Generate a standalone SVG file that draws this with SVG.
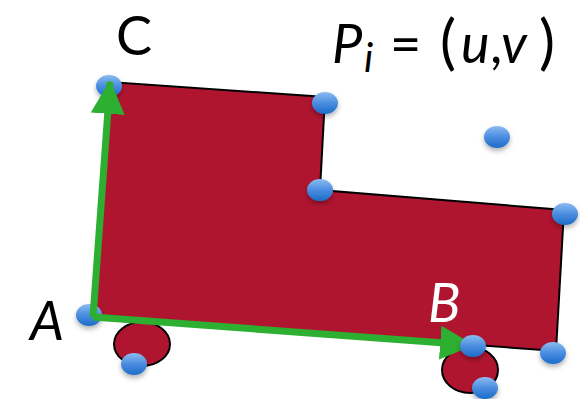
<svg xmlns="http://www.w3.org/2000/svg" width="580" height="399" viewBox="0 0 580 399">
<defs>
<linearGradient id="dotg" x1="0" y1="0" x2="0" y2="1">
<stop offset="0" stop-color="#8DBBF0"/>
<stop offset="0.5" stop-color="#4A8DE0"/>
<stop offset="1" stop-color="#1C6CC8"/>
</linearGradient>
<filter id="sh" x="-50%" y="-50%" width="200%" height="220%">
<feDropShadow dx="0" dy="3" stdDeviation="2.5" flood-color="#000" flood-opacity="0.3"/>
</filter>
<marker id="ah" markerUnits="userSpaceOnUse" markerWidth="34" markerHeight="34" viewBox="0 0 32 32" refX="30" refY="16" orient="auto">
<path d="M0,0 L32,16 L0,32 Z" fill="#2DAF31"/>
</marker>
</defs>
<style>
.shape{fill:#B01530;stroke:#000;stroke-width:2;stroke-linejoin:miter}
.dot{fill:url(#dotg);filter:url(#sh)}
.arr{stroke:#2DAF31;stroke-width:7;fill:none;marker-end:url(#ah)}
.lbl{font-family:Lato,"Open Sans",sans-serif;font-size:54px;fill:#000}
.it{font-style:italic}
</style>
<g id="circle-left"><ellipse class="shape" cx="142" cy="344" rx="28" ry="22"/></g>
<g id="circle-right"><ellipse class="shape" cx="470" cy="370" rx="28" ry="23"/></g>
<g id="polygon"><polygon class="shape" points="93,317 110,82 325,97 320,190 564,210 556,351"/></g>
<g id="points-under">
<ellipse class="dot" cx="109" cy="86" rx="13" ry="11"/>
<ellipse class="dot" cx="89" cy="315" rx="13" ry="11"/>
</g>
<g id="connectors">
<line class="arr" x1="93" y1="317" x2="110" y2="82"/>
<line class="arr" x1="93" y1="317" x2="472" y2="345"/>
</g>
<g id="points">
<ellipse class="dot" cx="325" cy="103" rx="13" ry="11"/>
<ellipse class="dot" cx="497" cy="137" rx="13" ry="11"/>
<ellipse class="dot" cx="320" cy="190" rx="13" ry="11"/>
<ellipse class="dot" cx="565" cy="214" rx="13" ry="11"/>
<ellipse class="dot" cx="134" cy="364" rx="13" ry="11"/>
<ellipse class="dot" cx="473" cy="346" rx="13" ry="11"/>
<ellipse class="dot" cx="553" cy="353" rx="13" ry="11"/>
<ellipse class="dot" cx="485" cy="388" rx="13" ry="11"/>
</g>
<g id="label-C"><text class="lbl" x="116" y="55">C</text></g>
<g id="label-A"><text class="lbl it" x="30" y="340">A</text></g>
<g id="label-B"><text class="lbl it" x="428" y="322" style="fill:#fff">B</text></g>
<g id="label-P"><text class="lbl" y="63"><tspan class="it" x="332">P</tspan><tspan class="it" x="364" y="72" font-size="40">i</tspan><tspan x="390" y="63">=</tspan><tspan x="440" font-size="60">(</tspan><tspan class="it" x="461">u</tspan><tspan x="490">,</tspan><tspan class="it" x="501">v</tspan><tspan x="539" font-size="60">)</tspan></text></g>
</svg>
